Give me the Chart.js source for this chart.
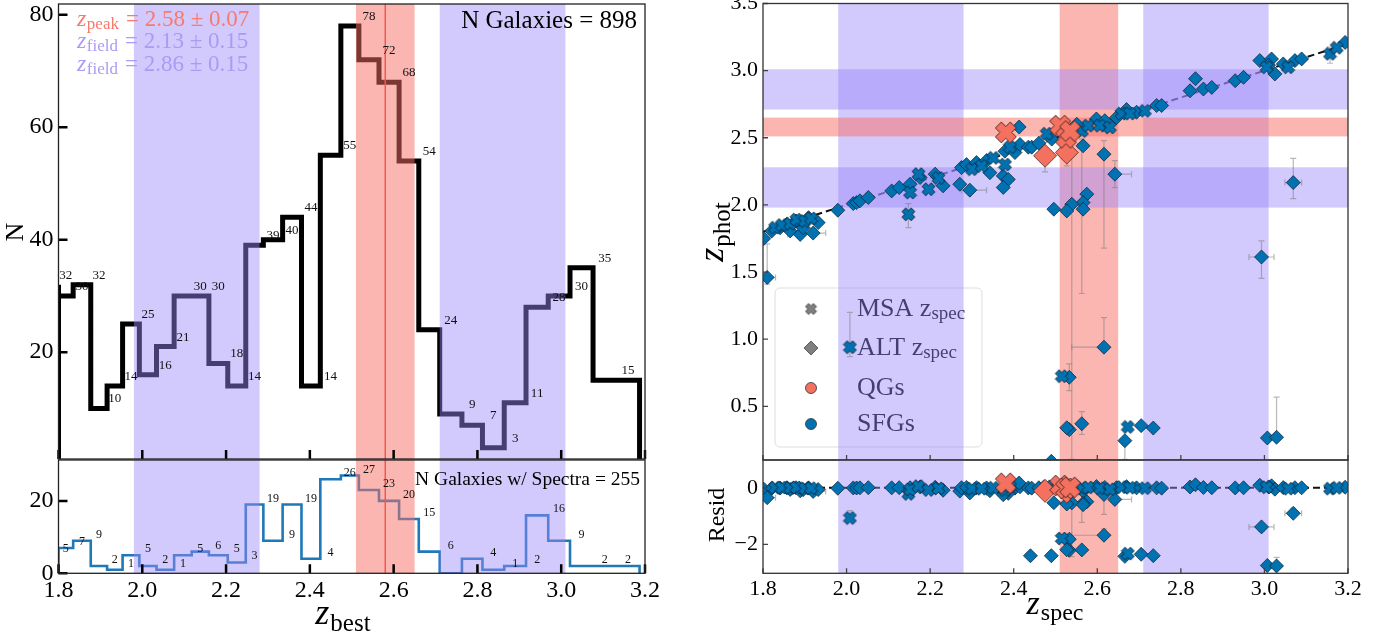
<!DOCTYPE html>
<html>
<head>
<meta charset="utf-8">
<title>z_best / z_phot</title>
<script src="https://cdn.jsdelivr.net/npm/chart.js@4.4.1/dist/chart.umd.min.js"></script>
<style>
body { margin: 0; background: #ffffff; }
#painel { position: relative; width: 1390px; height: 635px; overflow: hidden; }
canvas { position: absolute; }
</style>
</head>
<body>
<div id="painel">
  <canvas id="histTodas" width="690" height="460" style="left:0px;top:0px"></canvas>
  <canvas id="histSpec" width="690" height="177" style="left:0px;top:458px"></canvas>
  <canvas id="graficoPhot" width="700" height="462" style="left:690px;top:0px"></canvas>
  <canvas id="graficoResid" width="700" height="177" style="left:690px;top:458px"></canvas>
</div>
<script>
// bordas dos bins e contagens
var bordasBins = [1.800, 1.835, 1.877, 1.916, 1.953, 1.993, 2.034, 2.076, 2.118, 2.159, 2.204,
    2.247, 2.289, 2.335, 2.380, 2.425, 2.474, 2.517, 2.565, 2.613, 2.660, 2.710, 2.763,
    2.812, 2.864, 2.916, 2.969, 3.021, 3.076, 3.132, 3.187];
var contagemTodas = [32, 30, 32, 10, 14, 25, 16, 21, 30, 30, 18, 14, 39, 40, 44, 14, 55, 78, 72, 68,
    54, 24, 9, 7, 3, 11, 28, 30, 35, 15];
var contagemSpec = [5, 7, 9, 2, 1, 5, 2, 1, 5, 6, 5, 3, 19, 9, 19, 4, 26, 27, 23, 20,
    15, 6, 0, 4, 1, 2, 16, 9, 2, 2];

var ticksZ = [1.8, 2.0, 2.2, 2.4, 2.6, 2.8, 3.0, 3.2];
var ticksN = [20, 40, 60, 80];
var ticksNSpec = [0, 20];
var ticksPhot = [0.5, 1.0, 1.5, 2.0, 2.5, 3.0, 3.5];
var ticksResid = [-2, 0];

var zPico = 2.58, zPicoErr = 0.07;
var zCampo = [2.13, 2.86], zCampoErr = 0.15;

// [zspec, zphot]
var sfgAlt = [
    [1.802, 1.75], [1.821, 1.806], [1.841, 1.83], [1.857, 1.856], [1.865, 1.806], [1.879, 1.88],
    [1.889, 1.78], [1.896, 1.83], [1.909, 1.905], [1.92, 1.79], [1.932, 1.868], [1.81, 1.46],
    [1.979, 1.96], [2.016, 2.01], [2.024, 2.017], [2.032, 2.03], [2.052, 2.055],
    [2.108, 2.104], [2.126, 2.129], [2.152, 2.154], [2.176, 2.204], [2.212, 2.229], [2.231, 2.142],
    [2.271, 2.154], [2.295, 2.11], [2.275, 2.278], [2.287, 2.30], [2.311, 2.315], [2.335, 2.33],
    [2.343, 2.24], [2.379, 2.40], [2.403, 2.39], [2.415, 2.45], [2.435, 2.43], [2.375, 2.216],
    [2.387, 2.19], [2.375, 2.13], [2.413, 2.58], [2.443, 2.43], [2.46, 2.46], [2.491, 2.49],
    [2.551, 2.60], [2.566, 2.44], [2.598, 2.64], [2.618, 2.627], [2.646, 2.65], [2.67, 2.71],
    [2.694, 2.69], [2.742, 2.74], [2.754, 2.74], [2.616, 2.378], [2.642, 2.229], [2.575, 2.08],
    [2.566, 2.017], [2.539, 2.005], [2.527, 1.955], [2.496, 1.968], [2.566, 1.968],
    [2.822, 2.85], [2.835, 2.94], [2.854, 2.863], [2.874, 2.875], [2.93, 2.925], [2.95, 2.95],
    [2.989, 3.075], [3.017, 3.087], [3.025, 2.975], [3.01, 3.04], [3.045, 3.05], [3.073, 3.075],
    [3.089, 3.087], [3.193, 3.21], [3.069, 2.166], [2.993, 1.612], [2.616, 0.94], [2.533, 0.716],
    [2.533, 0.326], [2.527, 0.34], [2.563, 0.37], [2.705, 0.356], [2.734, 0.338], [2.666, 0.244],
    [3.007, 0.264], [3.029, 0.269], [2.44, 0.04], [2.49, 0.09]
];
var sfgMsa = [
    [1.829, 1.83], [1.845, 1.85], [1.865, 1.86], [1.88, 1.89], [1.90, 1.88], [1.915, 1.90],
    [2.148, 1.93], [2.152, 2.092], [2.172, 2.229], [2.196, 2.117], [2.22, 2.20],
    [2.30, 2.266], [2.323, 2.29], [2.351, 2.35], [2.379, 2.30], [2.391, 2.43],
    [2.479, 2.53], [2.563, 2.55], [2.578, 2.59], [2.606, 2.59], [2.63, 2.577], [2.658, 2.68],
    [2.678, 2.68], [2.714, 2.70], [3.005, 3.025], [3.057, 3.025], [3.157, 3.125], [3.173, 3.17],
    [2.008, 0.94], [2.515, 0.724], [2.673, 0.346]
];
var qgAlt = [[2.475, 2.366], [2.527, 2.39]];
var qgMsa = [[2.381, 2.54], [2.511, 2.59], [2.525, 2.50], [2.535, 2.55]];

// [zspec, zphot, xLo, xHi, yLo, yHi]
var barrasErro = [
    [2.148, 1.93, 0.01, 0.01, 0.10, 0.08], [2.008, 0.94, 0.006, 0.006, 0.07, 0.26],
    [2.993, 1.612, 0.03, 0.03, 0.16, 0.12], [3.069, 2.166, 0.02, 0.02, 0.12, 0.18],
    [3.029, 0.269, 0, 0, 0, 0.30], [2.666, 0.244, 0, 0, 0.14, 0],
    [2.616, 0.94, 0.077, 0, 0, 0.22], [2.616, 2.378, 0.01, 0.01, 0.70, 0.10],
    [2.539, 2.005, 0, 0, 1.90, 0.40], [2.563, 2.44, 0.01, 0.01, 1.10, 0.05],
    [2.563, 0.37, 0, 0, 0.08, 0.09], [2.533, 0.716, 0, 0, 0.10, 0.10],
    [2.642, 2.229, 0.01, 0.04, 0.10, 0.10], [1.81, 1.46, 0.02, 0.02, 0.05, 0.25],
    [3.157, 3.125, 0.01, 0.01, 0.07, 0.05], [2.475, 2.366, 0.02, 0.02, 0.12, 0.10],
    [2.527, 2.39, 0.01, 0.01, 0.10, 0.15], [1.889, 1.78, 0.03, 0.03, 0.03, 0.03],
    [1.92, 1.79, 0.02, 0.03, 0.03, 0.03], [2.295, 2.11, 0.02, 0.04, 0.02, 0.02]
];

var fonteSerif = "'Liberation Serif', 'Times New Roman', serif";
var corCampo = 'rgba(155,135,250,0.45)';
var corPico = 'rgba(250,110,100,0.5)';
var azul = '#0072b2';
var vermelho = '#f4705f';

function criarX(tam, cor, borda) {
    var c = document.createElement('canvas');
    c.width = c.height = tam + 2;
    var g = c.getContext('2d');
    var m = (tam + 2) / 2, L = tam / 2, w = tam * 0.2;
    g.translate(m, m);
    g.rotate(Math.PI / 4);
    g.beginPath();
    g.moveTo(-w, -L); g.lineTo(w, -L); g.lineTo(w, -w); g.lineTo(L, -w); g.lineTo(L, w);
    g.lineTo(w, w); g.lineTo(w, L); g.lineTo(-w, L); g.lineTo(-w, w); g.lineTo(-L, w);
    g.lineTo(-L, -w); g.lineTo(-w, -w); g.closePath();
    g.fillStyle = cor; g.fill();
    g.lineWidth = 0.8; g.strokeStyle = borda; g.stroke();
    return c;
}
var xAzul = criarX(13, azul, '#0b1c2c');
var xVermelho = criarX(21, vermelho, '#3a1a16');
var xCinza = criarX(11, '#808080', '#333333');

function degraus(contagem) {
    var pts = [{x: bordasBins[0], y: 0}];
    for (var i = 0; i < contagem.length; i++) {
        pts.push({x: bordasBins[i], y: contagem[i]});
    }
    var ult = bordasBins[bordasBins.length - 1];
    pts.push({x: ult, y: contagem[contagem.length - 1]});
    pts.push({x: ult, y: 0});
    return pts;
}

function textoPartes(ctx, partes, x, y) {
    var cx = x;
    partes.forEach(function (p) {
        ctx.font = p.fonte;
        ctx.fillStyle = p.cor;
        ctx.fillText(p.t, cx, y + (p.dy || 0));
        cx += ctx.measureText(p.t).width + (p.gap || 0);
    });
    return cx;
}
function larguraPartes(ctx, partes) {
    var w = 0;
    partes.forEach(function (p) { ctx.font = p.fonte; w += ctx.measureText(p.t).width + (p.gap || 0); });
    return w;
}
function tituloZ(ctx, sub, cx, cy, tamZ, tamSub, dySub, rotacionado) {
    var partes = [
        {t: 'z', fonte: 'italic ' + tamZ + 'px ' + fonteSerif, cor: '#000', gap: 1},
        {t: sub, fonte: tamSub + 'px ' + fonteSerif, cor: '#000', dy: dySub}
    ];
    ctx.save();
    ctx.textAlign = 'left';
    ctx.textBaseline = 'alphabetic';
    var w = larguraPartes(ctx, partes);
    ctx.translate(cx, cy);
    if (rotacionado) ctx.rotate(-Math.PI / 2);
    textoPartes(ctx, partes, -w / 2, 0);
    ctx.restore();
}

function desenharBandas(chart, horizontais) {
    var ctx = chart.ctx, a = chart.chartArea, sx = chart.scales.x, sy = chart.scales.y;
    ctx.save();
    ctx.beginPath();
    ctx.rect(a.left, a.top, a.right - a.left, a.bottom - a.top);
    ctx.clip();
    function faixaV(c, e, cor) {
        var x0 = sx.getPixelForValue(c - e), x1 = sx.getPixelForValue(c + e);
        ctx.fillStyle = cor;
        ctx.fillRect(x0, a.top, x1 - x0, a.bottom - a.top);
    }
    function faixaH(c, e, cor) {
        var y0 = sy.getPixelForValue(c + e), y1 = sy.getPixelForValue(c - e);
        ctx.fillStyle = cor;
        ctx.fillRect(a.left, y0, a.right - a.left, y1 - y0);
    }
    zCampo.forEach(function (c) { faixaV(c, zCampoErr, corCampo); });
    faixaV(zPico, zPicoErr, corPico);
    if (horizontais) {
        zCampo.forEach(function (c) { faixaH(c, zCampoErr, corCampo); });
        faixaH(zPico, zPicoErr, corPico);
    }
    ctx.restore();
}

function desenharErros(chart, residuo) {
    var ctx = chart.ctx, a = chart.chartArea, sx = chart.scales.x, sy = chart.scales.y;
    ctx.save();
    ctx.beginPath();
    ctx.rect(a.left, a.top, a.right - a.left, a.bottom - a.top);
    ctx.clip();
    ctx.strokeStyle = 'rgba(125,125,125,0.55)';
    ctx.lineWidth = 1.2;
    barrasErro.forEach(function (b) {
        var yv = residuo ? b[1] - b[0] : b[1];
        var px = sx.getPixelForValue(b[0]), py = sy.getPixelForValue(yv);
        ctx.beginPath();
        if (b[4] > 0 || b[5] > 0) {
            var yA = sy.getPixelForValue(yv + b[5]), yB = sy.getPixelForValue(yv - b[4]);
            ctx.moveTo(px, yA); ctx.lineTo(px, yB);
            if (b[5] > 0) { ctx.moveTo(px - 3, yA); ctx.lineTo(px + 3, yA); }
            if (b[4] > 0) { ctx.moveTo(px - 3, yB); ctx.lineTo(px + 3, yB); }
        }
        if (b[2] > 0 || b[3] > 0) {
            var xA = sx.getPixelForValue(b[0] - b[2]), xB = sx.getPixelForValue(b[0] + b[3]);
            ctx.moveTo(xA, py); ctx.lineTo(xB, py);
            if (b[2] > 0) { ctx.moveTo(xA, py - 3); ctx.lineTo(xA, py + 3); }
            if (b[3] > 0) { ctx.moveTo(xB, py - 3); ctx.lineTo(xB, py + 3); }
        }
        ctx.stroke();
    });
    ctx.restore();
}

function desenharMoldura(chart, cfg) {
    var ctx = chart.ctx, a = chart.chartArea, sx = chart.scales.x, sy = chart.scales.y;
    ctx.save();
    ctx.strokeStyle = cfg.corTick;
    ctx.lineWidth = cfg.larguraTick;
    ctx.beginPath();
    cfg.ticksX.forEach(function (v) {
        var px = sx.getPixelForValue(v);
        ctx.moveTo(px, a.bottom); ctx.lineTo(px, a.bottom - cfg.tamTick);
    });
    cfg.ticksY.forEach(function (v) {
        var py = sy.getPixelForValue(v);
        if (py < a.top - 1 || py > a.bottom + 1) return;
        ctx.moveTo(a.left, py); ctx.lineTo(a.left + cfg.tamTick, py);
    });
    ctx.stroke();
    ctx.strokeStyle = cfg.corMoldura;
    ctx.lineWidth = 1.3;
    ctx.strokeRect(a.left, a.top, a.right - a.left, a.bottom - a.top);
    ctx.restore();
}

function rotulosHist(chart, contagem, tamFonte, afast) {
    var ctx = chart.ctx, sx = chart.scales.x, sy = chart.scales.y;
    ctx.save();
    ctx.font = tamFonte + 'px ' + fonteSerif;
    ctx.fillStyle = '#111';
    ctx.textAlign = 'center';
    ctx.textBaseline = 'alphabetic';
    contagem.forEach(function (n, i) {
        if (n <= 0) return;
        var cx = sx.getPixelForValue((bordasBins[i] + bordasBins[i + 1]) / 2);
        ctx.fillText(String(n), cx, sy.getPixelForValue(n) - afast);
    });
    ctx.restore();
}

function desenharLegenda(chart) {
    var ctx = chart.ctx;
    ctx.save();
    ctx.beginPath();
    ctx.roundRect(85, 288, 207, 159, 5);
    ctx.fillStyle = 'rgba(255,255,255,0.8)';
    ctx.fill();
    ctx.strokeStyle = '#dddddd';
    ctx.lineWidth = 1;
    ctx.stroke();
    var mx = 121;
    ctx.drawImage(xCinza, mx - xCinza.width / 2, 309 - xCinza.height / 2);
    ctx.beginPath();
    ctx.moveTo(mx - 7, 348); ctx.lineTo(mx, 341); ctx.lineTo(mx + 7, 348); ctx.lineTo(mx, 355); ctx.closePath();
    ctx.fillStyle = '#808080'; ctx.fill(); ctx.strokeStyle = '#444'; ctx.lineWidth = 0.8; ctx.stroke();
    ctx.beginPath(); ctx.arc(mx, 388, 5.5, 0, 2 * Math.PI);
    ctx.fillStyle = vermelho; ctx.fill(); ctx.strokeStyle = '#333'; ctx.stroke();
    ctx.beginPath(); ctx.arc(mx, 424, 5.5, 0, 2 * Math.PI);
    ctx.fillStyle = azul; ctx.fill(); ctx.stroke();
    ctx.textAlign = 'left';
    ctx.textBaseline = 'middle';
    var f = '26px ' + fonteSerif, fs = '19px ' + fonteSerif;
    textoPartes(ctx, [{t: 'MSA z', fonte: f, cor: '#000'}, {t: 'spec', fonte: fs, cor: '#000', dy: 5}], 167, 309);
    textoPartes(ctx, [{t: 'ALT z', fonte: f, cor: '#000'}, {t: 'spec', fonte: fs, cor: '#000', dy: 5}], 167, 348);
    textoPartes(ctx, [{t: 'QGs', fonte: f, cor: '#000'}], 167, 388);
    textoPartes(ctx, [{t: 'SFGs', fonte: f, cor: '#000'}], 167, 424);
    ctx.restore();
}

var estiloEsq = {ticksX: ticksZ, tamTick: 9, larguraTick: 2.5, corTick: '#000', corMoldura: '#222'};
var estiloDir = {ticksX: ticksZ, tamTick: 5, larguraTick: 1.3, corTick: '#444', corMoldura: '#333'};

var pluginExtras = {
    id: 'extras',
    beforeDatasetsDraw: function (chart) {
        if (chart.canvas.id === 'graficoPhot') desenharLegenda(chart);
    },
    afterDatasetDraw: function (chart, args) {
        var ds = chart.data.datasets[args.index];
        if (!ds.bandasDepois) return;
        var id = chart.canvas.id;
        desenharBandas(chart, id === 'graficoPhot');
        if (id === 'graficoPhot') desenharErros(chart, false);
        if (id === 'graficoResid') desenharErros(chart, true);
    },
    afterDatasetsDraw: function (chart) {
        var ctx = chart.ctx, id = chart.canvas.id;
        if (id === 'histTodas') {
            rotulosHist(chart, contagemTodas, 13, 6);
            desenharMoldura(chart, Object.assign({ticksY: ticksN}, estiloEsq));
            ctx.save();
            ctx.textBaseline = 'alphabetic';
            ctx.textAlign = 'left';
            var linhas = [
                {sub: 'peak', txt: '= 2.58 \u00b1 0.07', cor: '#f87a6c', y: 25.5},
                {sub: 'field', txt: '= 2.13 \u00b1 0.15', cor: '#a99cf5', y: 48.3},
                {sub: 'field', txt: '= 2.86 \u00b1 0.15', cor: '#a99cf5', y: 70.7}
            ];
            linhas.forEach(function (l) {
                textoPartes(ctx, [
                    {t: 'z', fonte: 'italic 24px ' + fonteSerif, cor: l.cor, gap: 0.5},
                    {t: l.sub, fonte: '17px ' + fonteSerif, cor: l.cor, dy: 3, gap: 7},
                    {t: l.txt, fonte: '23px ' + fonteSerif, cor: l.cor}
                ], 77, l.y);
            });
            ctx.font = '25px ' + fonteSerif;
            ctx.fillStyle = '#000';
            ctx.textAlign = 'right';
            ctx.fillText('N Galaxies = 898', 637, 28);
            ctx.translate(16, 232);
            ctx.rotate(-Math.PI / 2);
            ctx.textAlign = 'center';
            ctx.textBaseline = 'middle';
            ctx.font = '26px ' + fonteSerif;
            ctx.fillText('N', 0, 0);
            ctx.restore();
        } else if (id === 'histSpec') {
            rotulosHist(chart, contagemSpec, 12, 3);
            desenharMoldura(chart, Object.assign({ticksY: ticksNSpec}, estiloEsq));
            ctx.save();
            ctx.font = '19.5px ' + fonteSerif;
            ctx.fillStyle = '#000';
            ctx.textAlign = 'right';
            ctx.textBaseline = 'alphabetic';
            ctx.fillText('N Galaxies w/ Spectra = 255', 640, 27);
            ctx.restore();
            tituloZ(ctx, 'best', 343, 166, 36, 25, 7, false);
        } else if (id === 'graficoPhot') {
            desenharMoldura(chart, Object.assign({ticksY: ticksPhot}, estiloDir));
            tituloZ(ctx, 'phot', 33, 232, 36, 25, 7, true);
        } else if (id === 'graficoResid') {
            desenharMoldura(chart, Object.assign({ticksY: ticksResid}, estiloDir));
            ctx.save();
            ctx.translate(28, 57);
            ctx.rotate(-Math.PI / 2);
            ctx.font = '24px ' + fonteSerif;
            ctx.fillStyle = '#000';
            ctx.textAlign = 'center';
            ctx.textBaseline = 'middle';
            ctx.fillText('Resid', 0, 0);
            ctx.restore();
            tituloZ(ctx, 'spec', 365, 156, 34, 24, 6, false);
        }
    }
};
Chart.register(pluginExtras);

function formatoZ(v) { return v.toFixed(1); }
function formatoInt(v) { return v < 0 ? '\u2212' + Math.abs(v) : String(v); }

function eixoX(mostrar, tamFonte) {
    return {
        type: 'linear', min: 1.8, max: 3.2, display: mostrar,
        grid: {display: false, drawTicks: false}, border: {display: false},
        afterBuildTicks: function (s) { s.ticks = ticksZ.map(function (v) { return {value: v}; }); },
        ticks: {font: {family: fonteSerif, size: tamFonte}, color: '#000', padding: 3,
            maxRotation: 0, autoSkip: false, callback: formatoZ},
        afterFit: function (s) {
            s.height = mostrar ? 61.7 : 0;
            s.paddingLeft = 0; s.paddingRight = 0;
        }
    };
}
function eixoY(min, max, lista, formato, tamFonte, largura) {
    return {
        type: 'linear', min: min, max: max,
        grid: {display: false, drawTicks: false}, border: {display: false},
        afterBuildTicks: function (s) { s.ticks = lista.map(function (v) { return {value: v}; }); },
        ticks: {font: {family: fonteSerif, size: tamFonte}, color: '#000', padding: 5,
            autoSkip: false, callback: formato},
        afterFit: function (s) {
            s.width = largura;
            s.paddingTop = 0; s.paddingBottom = 0;
        }
    };
}
function opcoesBase(padding, escalas) {
    return {
        responsive: false, animation: false, events: [], devicePixelRatio: 1,
        layout: {padding: padding, autoPadding: false},
        plugins: {legend: {display: false}, tooltip: {enabled: false}},
        scales: escalas
    };
}

// histograma de todas as galaxias
new Chart(document.getElementById('histTodas'), {
    type: 'line',
    data: {datasets: [
        {data: degraus(contagemTodas), stepped: 'after', borderColor: '#000', borderWidth: 5,
            pointRadius: 0, fill: false, order: 2, bandasDepois: true, borderJoinStyle: 'miter'},
        {data: [{x: zPico, y: -10}, {x: zPico, y: 200}], borderColor: '#f4584c', borderWidth: 1.5,
            pointRadius: 0, order: 1}
    ]},
    options: opcoesBase({left: 0, right: 45, top: 4, bottom: 1}, {
        x: eixoX(false, 24),
        y: eixoY(1, 81.9, ticksN, formatoInt, 24, 58.5)
    })
});

// histograma das galaxias com espectro
new Chart(document.getElementById('histSpec'), {
    type: 'line',
    data: {datasets: [
        {data: degraus(contagemSpec), stepped: 'after', borderColor: '#1f78b8', borderWidth: 2.6,
            pointRadius: 0, fill: false, order: 2, bandasDepois: true, borderJoinStyle: 'miter'},
        {data: [{x: zPico, y: -10}, {x: zPico, y: 200}], borderColor: '#f4584c', borderWidth: 1.5,
            pointRadius: 0, order: 1}
    ]},
    options: opcoesBase({left: 0, right: 45, top: 2, bottom: 0}, {
        x: eixoX(true, 24),
        y: eixoY(0, 31.3, ticksNSpec, formatoInt, 24, 58.5)
    })
});

function pontos(lista, residuo) {
    return lista.map(function (p) { return {x: p[0], y: residuo ? p[1] - p[0] : p[1]}; });
}
function datasetsDispersao(residuo) {
    var linha = residuo ? [{x: 1.8, y: 0}, {x: 3.2, y: 0}] : [{x: 1.8, y: 1.8}, {x: 3.2, y: 3.2}];
    return [
        {type: 'line', data: linha, showLine: true, borderColor: '#111', borderWidth: 2,
            borderDash: [7, 4], pointRadius: 0, order: 10, bandasDepois: true},
        {data: pontos(sfgAlt, residuo), pointStyle: 'rectRot', pointRadius: 7,
            pointBackgroundColor: azul, pointBorderColor: '#0b1c2c', pointBorderWidth: 0.7, order: 4, clip: 0},
        {data: pontos(sfgMsa, residuo), pointStyle: xAzul, pointRadius: 6, order: 3, clip: 0},
        {data: pontos(qgAlt, residuo), pointStyle: 'rectRot', pointRadius: 11.5,
            pointBackgroundColor: vermelho, pointBorderColor: '#3a1a16', pointBorderWidth: 0.7, order: 2, clip: 0},
        {data: pontos(qgMsa, residuo), pointStyle: xVermelho, pointRadius: 10, order: 1, clip: 0}
    ];
}

new Chart(document.getElementById('graficoPhot'), {
    type: 'scatter',
    data: {datasets: datasetsDispersao(false)},
    options: opcoesBase({left: 0, right: 42, top: 3.5, bottom: 2}, {
        x: eixoX(false, 22),
        y: eixoY(0.1, 3.5, ticksPhot, formatoZ, 22, 73)
    })
});

new Chart(document.getElementById('graficoResid'), {
    type: 'scatter',
    data: {datasets: datasetsDispersao(true)},
    options: opcoesBase({left: 0, right: 42, top: 2, bottom: 0}, {
        x: eixoX(true, 22),
        y: eixoY(-3.02, 0.98, ticksResid, formatoInt, 22, 73)
    })
});
</script>
</body>
</html>
